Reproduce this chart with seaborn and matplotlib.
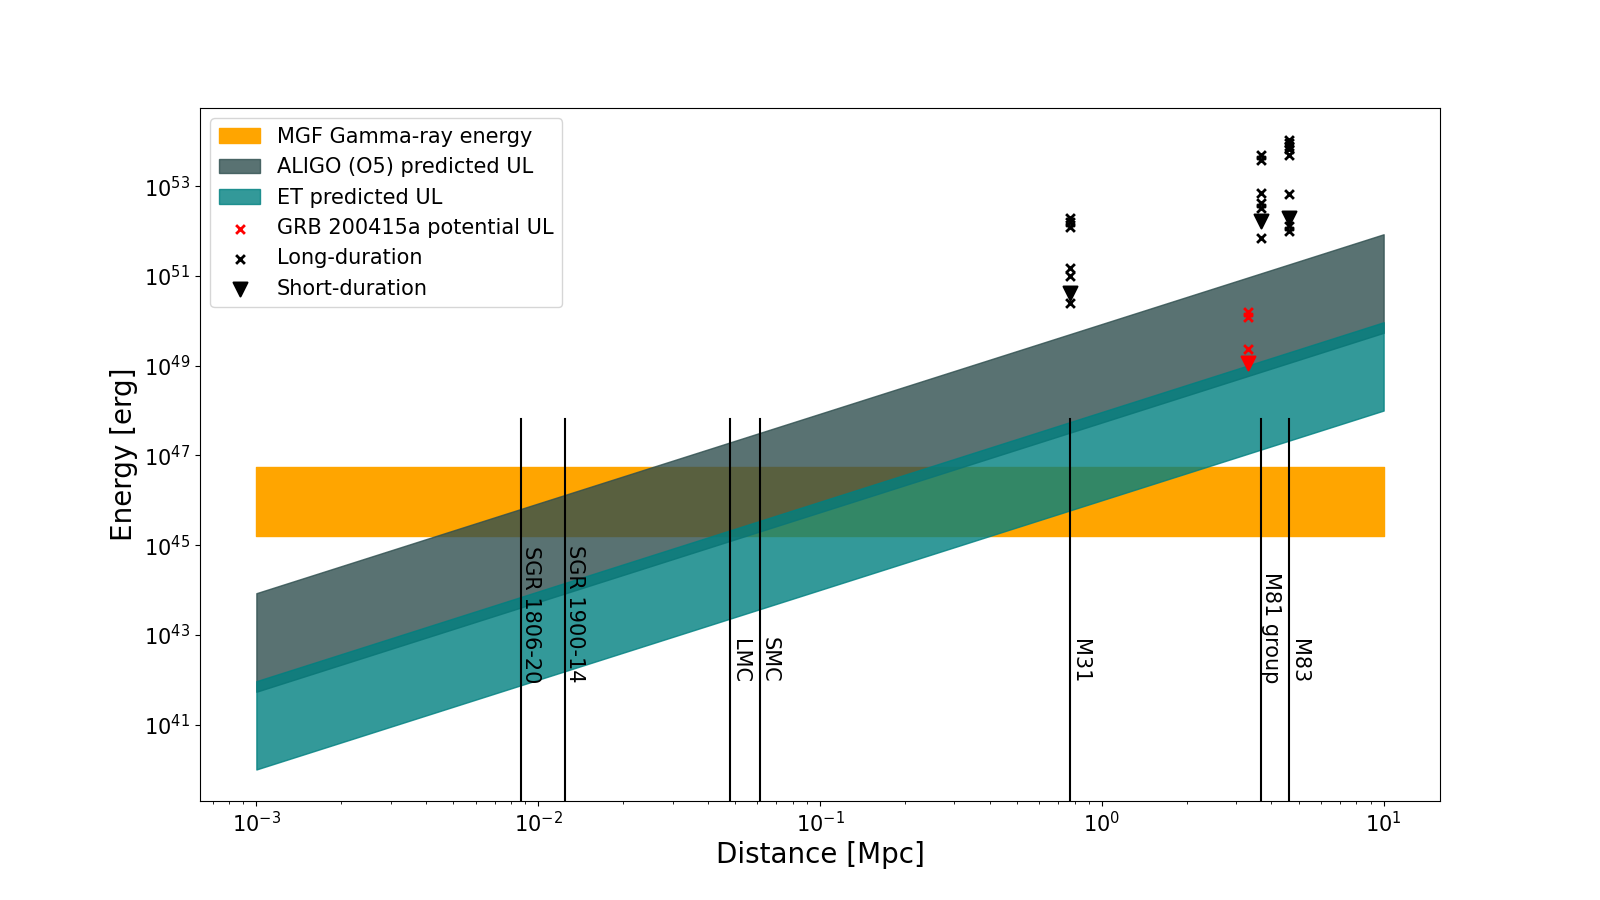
import numpy as np
import matplotlib
matplotlib.use("Agg")
import matplotlib.pyplot as plt
import seaborn as sns

# band end points (distance in Mpc, energy in erg)
band_d = [1e-3, 10]
mgf_lo = [1.6e45, 1.6e45]
mgf_hi = [5.5e46, 5.5e46]
aligo_lo = [5.4e41, 5.4e49]
aligo_hi = [8.5e43, 8.5e51]
et_lo = [1e40, 1e48]
et_hi = [9.3e41, 9.3e49]

# host galaxies / sources
src_names = ["SGR 1806-20", "SGR 1900-14", "LMC", "SMC", "M31", "M81 group", "M83"]
src_dist = [8.7e-3, 12.5e-3, 0.048, 0.061, 0.77, 3.67, 4.6]

# long-duration GRB upper limits
long_d = [0.77, 0.77, 0.77, 0.77, 0.77, 0.77,
          3.67, 3.67, 3.67, 3.67, 3.67, 3.67,
          4.6, 4.6, 4.6, 4.6, 4.6, 4.6, 4.6, 4.6]
long_e = [2.0e52, 1.6e52, 1.25e52, 1.5e51, 1.0e51, 2.5e50,
          4.9e53, 3.9e53, 7.1e52, 4.3e52, 3.2e52, 6.9e51,
          1.1e54, 9.1e53, 7.7e53, 6.6e53, 5.0e53, 6.6e52, 1.3e52, 1.0e52]

# short-duration GRB upper limits
short_d = [0.77, 3.67, 4.6]
short_e = [4.2e50, 1.67e52, 2.0e52]

# GRB 200415a
grb_d = [3.3, 3.3, 3.3]
grb_e = [1.6e50, 1.2e50, 2.3e49]
grb_short_d = [3.3]
grb_short_e = [1.17e49]

fig, ax = plt.subplots(figsize=(16, 9), dpi=100)

ax.fill_between(band_d, mgf_lo, mgf_hi, color="orange", label="MGF Gamma-ray energy")
ax.fill_between(band_d, aligo_lo, aligo_hi, color="darkslategray", alpha=0.8,
                label="ALIGO (O5) predicted UL")
ax.fill_between(band_d, et_lo, et_hi, color="teal", alpha=0.8, label="ET predicted UL")

sns.scatterplot(x=grb_d, y=grb_e, marker="x", color="red", s=40, linewidth=2,
                label="GRB 200415a potential UL", ax=ax)
sns.scatterplot(x=long_d, y=long_e, marker="x", color="black", s=40, linewidth=2,
                label="Long-duration", ax=ax)
sns.scatterplot(x=short_d, y=short_e, marker="v", color="black", s=100,
                edgecolor="black", linewidth=1.5, label="Short-duration", ax=ax)
sns.scatterplot(x=grb_short_d, y=grb_short_e, marker="v", color="red", s=100,
                edgecolor="red", linewidth=1.5, ax=ax)

for name, d in zip(src_names, src_dist):
    ax.axvline(d, ymax=0.551, color="black", linewidth=1.5)
    ax.text(d, 8.5e41, name, rotation=270, fontsize=15, ha="left", va="bottom")

ax.set_xscale("log")
ax.set_yscale("log")
ax.set_xlabel("Distance [Mpc]", fontsize=20)
ax.set_ylabel("Energy [erg]", fontsize=20)
ax.tick_params(labelsize=15)
ax.legend(loc="upper left", fontsize=15)

fig.savefig("out.png")
